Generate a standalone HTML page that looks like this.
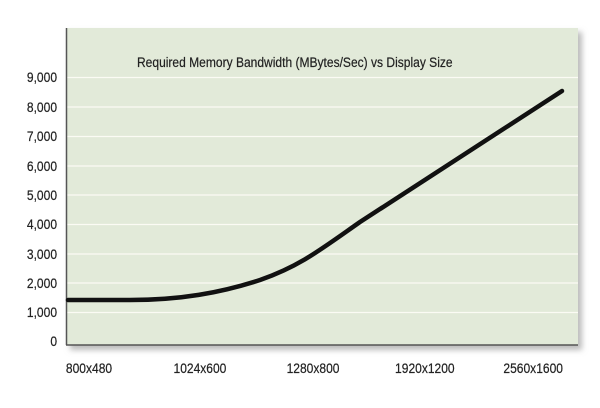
<!DOCTYPE html>
<html><head><style>
body{margin:0;background:#fff;}
svg{display:block;font-family:"Liberation Sans",Arial,sans-serif;}
</style></head><body>
<svg width="600" height="408" viewBox="0 0 600 408">
<defs><filter id="sh" x="-5%" y="-5%" width="115%" height="115%"><feGaussianBlur stdDeviation="3"/></filter></defs>
<rect x="70" y="32" width="512" height="318" fill="#bbb" filter="url(#sh)"/>
<rect x="66" y="28" width="512" height="317" fill="#e2ead9"/>
<g stroke="#fbfbf4" stroke-width="1.2">
<line x1="67" x2="578" y1="77.5" y2="77.5"/><line x1="67" x2="578" y1="107" y2="107"/>
<line x1="67" x2="578" y1="136.5" y2="136.5"/><line x1="67" x2="578" y1="166" y2="166"/>
<line x1="67" x2="578" y1="195" y2="195"/><line x1="67" x2="578" y1="224.5" y2="224.5"/>
<line x1="67" x2="578" y1="254" y2="254"/><line x1="67" x2="578" y1="283" y2="283"/>
<line x1="67" x2="578" y1="312.5" y2="312.5"/>
</g>
<line x1="66.5" y1="28" x2="66.5" y2="345" stroke="#555" stroke-width="1.5"/>
<line x1="66" y1="345" x2="578" y2="345" stroke="#555" stroke-width="1.5"/>
<g font-size="14" fill="#222" text-anchor="end" transform="scale(0.86,1)" stroke="#222" stroke-width="0.2">
<text x="66.3" y="82">9,000</text><text x="66.3" y="112">8,000</text>
<text x="66.3" y="141">7,000</text><text x="66.3" y="171">6,000</text>
<text x="66.3" y="200">5,000</text><text x="66.3" y="229">4,000</text>
<text x="66.3" y="259">3,000</text><text x="66.3" y="288">2,000</text>
<text x="66.3" y="317">1,000</text><text x="66.3" y="346">0</text>
</g>
<g font-size="14" fill="#222" text-anchor="middle" transform="scale(0.86,1)" stroke="#222" stroke-width="0.2">
<text x="103.5" y="373">800x480</text><text x="232.5" y="373">1024x600</text>
<text x="364" y="373">1280x800</text><text x="494" y="373">1920x1200</text>
<text x="620" y="373">2560x1600</text>
</g>
<text x="159.3" y="67" font-size="14" fill="#222" stroke="#222" stroke-width="0.2" transform="scale(0.86,1)">Required Memory Bandwidth (MBytes/Sec) vs Display Size</text>
<path d="M68,300 L130,300 C180,300 220,293 260,280 C300,266 320,250 360,222 L562,91" fill="none" stroke="#111" stroke-width="4.5" stroke-linecap="round"/>
</svg>
</body></html>
